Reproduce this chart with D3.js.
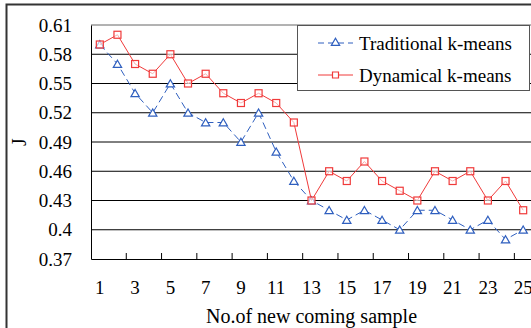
<!DOCTYPE html>
<html>
<head>
<meta charset="utf-8">
<script src="https://cdn.jsdelivr.net/npm/d3@7"></script>
<style>
  body { margin: 0; background: #fff; }
</style>
</head>
<body>
<script>
// chart values
var samples = d3.range(1, 26);
var traditional = [0.59, 0.57, 0.54, 0.52, 0.55, 0.52, 0.51, 0.51, 0.49, 0.52, 0.48, 0.45, 0.43,
                   0.42, 0.41, 0.42, 0.41, 0.40, 0.42, 0.42, 0.41, 0.40, 0.41, 0.39, 0.40];
var dynamical = [0.59, 0.60, 0.57, 0.56, 0.58, 0.55, 0.56, 0.54, 0.53, 0.54, 0.53, 0.51, 0.43,
                 0.46, 0.45, 0.47, 0.45, 0.44, 0.43, 0.46, 0.45, 0.46, 0.43, 0.45, 0.42];
var yTicks = [0.37, 0.40, 0.43, 0.46, 0.49, 0.52, 0.55, 0.58, 0.61];
var xLabels = [1, 3, 5, 7, 9, 11, 13, 15, 17, 19, 21, 23, 25];
var seriesNames = ["Traditional k-means", "Dynamical k-means"];

var W = 531, H = 328;
var margin = {top: 25, right: -1, bottom: 69, left: 91};
var width = W - margin.left - margin.right,
    height = H - margin.top - margin.bottom;

var blue = "#2f5fbf", red = "#f03a3a";
var serif = "Liberation Serif";

var svg = d3.select("body").append("svg")
    .attr("width", W)
    .attr("height", H);

// outer frame
svg.append("rect")
    .attr("x", 6.5).attr("y", 4.5)
    .attr("width", 560).attr("height", 360)
    .attr("fill", "none")
    .attr("stroke", "#333")
    .attr("stroke-width", 2);

var g = svg.append("g")
    .attr("transform", "translate(" + margin.left + "," + margin.top + ")");

var x = d3.scaleBand().domain(samples).range([0, width]);
var y = d3.scaleLinear().domain([0.37, 0.61]).range([height, 0]);
var cx = function(d) { return x(d) + x.bandwidth() / 2; };

// gridlines
g.selectAll(".grid")
    .data(yTicks.slice(1))
    .enter().append("line")
    .attr("x1", 0).attr("x2", width)
    .attr("y1", function(d) { return y(d); })
    .attr("y2", function(d) { return y(d); })
    .attr("stroke", function(d) { return d === 0.61 ? "#666" : "#000"; })
    .attr("stroke-width", 1);

// y axis
var yAxis = g.append("g")
    .call(d3.axisLeft(y).tickValues(yTicks).tickFormat(d3.format("")).tickSize(0).tickPadding(19))
    .attr("font-family", serif)
    .attr("font-size", 19);
yAxis.select(".domain").attr("stroke", "#000");

// x axis: ticks inside, every other band
var xAxis = g.append("g")
    .attr("transform", "translate(0," + height + ")")
    .call(d3.axisBottom(x).tickValues(xLabels).tickSize(0).tickPadding(22))
    .attr("font-family", serif)
    .attr("font-size", 19);
xAxis.select(".domain").attr("stroke", "#000");

g.selectAll(".xtick")
    .data(d3.range(2, 25, 2))
    .enter().append("line")
    .attr("x1", function(d) { return x(d) + x.bandwidth(); })
    .attr("x2", function(d) { return x(d) + x.bandwidth(); })
    .attr("y1", height).attr("y2", height - 6)
    .attr("stroke", "#000");

// axis titles
svg.append("text")
    .attr("x", margin.left + width / 2)
    .attr("y", 323)
    .attr("text-anchor", "middle")
    .attr("font-family", serif)
    .attr("font-size", 20)
    .text("No.of new coming sample");

svg.append("text")
    .attr("transform", "translate(26," + (margin.top + height / 2) + ") rotate(-90)")
    .attr("text-anchor", "middle")
    .attr("font-family", serif)
    .attr("font-size", 20)
    .text("J");

var line = d3.line()
    .x(function(d, i) { return cx(samples[i]); })
    .y(function(d) { return y(d); });

var tri = d3.symbol().type(d3.symbolTriangle).size(30);

// traditional (blue dashed, triangles)
g.append("path")
    .datum(traditional)
    .attr("fill", "none")
    .attr("stroke", blue)
    .attr("stroke-width", 1)
    .attr("stroke-dasharray", "7,4")
    .attr("d", line);
g.selectAll(".tri")
    .data(traditional)
    .enter().append("path")
    .attr("transform", function(d, i) { return "translate(" + cx(samples[i]) + "," + (y(d) + 1) + ")"; })
    .attr("d", tri)
    .attr("fill", "#fff")
    .attr("stroke", blue)
    .attr("stroke-width", 1.2);

// dynamical (red solid, squares)
g.append("path")
    .datum(dynamical)
    .attr("fill", "none")
    .attr("stroke", red)
    .attr("stroke-width", 1)
    .attr("d", line);
g.selectAll(".sq")
    .data(dynamical)
    .enter().append("rect")
    .attr("x", function(d, i) { return cx(samples[i]) - 3.5; })
    .attr("y", function(d) { return y(d) - 3.5; })
    .attr("width", 7).attr("height", 7)
    .attr("fill", "#fff")
    .attr("fill-opacity", 0.6)
    .attr("stroke", red)
    .attr("stroke-width", 1.2);

// legend
var legend = svg.append("g");
legend.append("rect")
    .attr("x", 297.5).attr("y", 25.5)
    .attr("width", 232).attr("height", 65)
    .attr("fill", "#fff")
    .attr("stroke", "#555")
    .attr("stroke-width", 1);

var rows = legend.selectAll(".row")
    .data(seriesNames)
    .enter().append("g")
    .attr("transform", function(d, i) { return "translate(0," + (43 + i * 32) + ")"; });
rows.append("line")
    .attr("x1", 318).attr("x2", 353)
    .attr("y1", 0).attr("y2", 0)
    .attr("stroke", function(d, i) { return i ? red : blue; })
    .attr("stroke-dasharray", function(d, i) { return i ? null : "6,4"; });
rows.append("path")
    .attr("d", function(d, i) { return i ? "M-3,-3H3V3H-3Z" : tri(); })
    .attr("transform", "translate(335.5,0)")
    .attr("fill", "#fff")
    .attr("stroke", function(d, i) { return i ? red : blue; })
    .attr("stroke-width", 1.2);
rows.append("text")
    .attr("x", 359)
    .attr("y", 0)
    .attr("dy", "0.35em")
    .attr("font-family", serif)
    .attr("font-size", 19)
    .text(function(d) { return d; });
</script>
</body>
</html>
